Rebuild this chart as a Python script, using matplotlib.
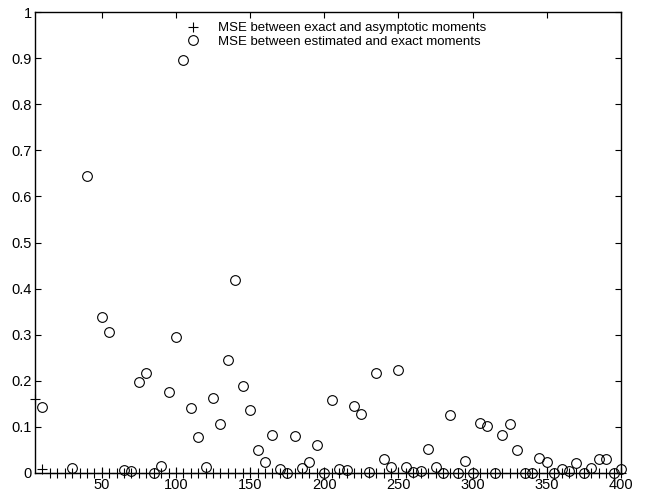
import matplotlib
matplotlib.use("Agg")
import matplotlib.pyplot as plt
import numpy as np

plt.rcParams['font.family'] = ['Liberation Sans', 'DejaVu Sans']

# Series 1: MSE between exact and asymptotic moments (+)
asym_x = [5, 10] + list(range(15, 405, 5))
asym_y = [0.16, 0.008] + [0.0] * len(range(15, 405, 5))

# Series 2: MSE between estimated and exact moments (o)
est_x = [10, 30, 40, 50, 55, 65, 70, 75, 80, 85, 90, 95, 100, 105, 110, 115,
         120, 125, 130, 135, 140, 145, 150, 155, 160, 165, 170, 175, 180, 185,
         190, 195, 200, 205, 210, 215, 220, 225, 230, 235, 240, 245, 250, 255,
         260, 265, 270, 275, 280, 285, 290, 295, 300, 305, 310, 315, 320, 325,
         330, 335, 340, 345, 350, 355, 360, 365, 370, 375, 380, 385, 390, 395,
         400]
est_y = [0.144, 0.011, 0.644, 0.339, 0.305, 0.006, 0.005, 0.197, 0.218, 0.0,
         0.015, 0.176, 0.294, 0.896, 0.142, 0.078, 0.013, 0.162, 0.106, 0.246,
         0.419, 0.189, 0.136, 0.050, 0.024, 0.083, 0.009, 0.0, 0.081, 0.011,
         0.024, 0.061, 0.0, 0.158, 0.009, 0.006, 0.145, 0.128, 0.003, 0.218,
         0.030, 0.012, 0.223, 0.012, 0.003, 0.004, 0.051, 0.012, 0.0, 0.126,
         0.0, 0.025, 0.0, 0.108, 0.103, 0.0, 0.083, 0.106, 0.049, 0.0, 0.0,
         0.032, 0.024, 0.0, 0.009, 0.004, 0.021, 0.0, 0.011, 0.030, 0.030,
         0.0, 0.008]

xticks = [50, 100, 150, 200, 250, 300, 350, 400]
yticks = [0, 0.1, 0.2, 0.3, 0.4, 0.5, 0.6, 0.7, 0.8, 0.9, 1]
ytick_labels = ['0', '0.1', '0.2', '0.3', '0.4', '0.5', '0.6', '0.7', '0.8', '0.9', '1']

fig = plt.figure(figsize=(6.5, 4.93), dpi=100)
ax = fig.add_axes([35/650, 20/493, 586/650, 461/493])

ax.plot(asym_x, asym_y, linestyle='none', marker='+', color='black',
        markersize=7, markeredgewidth=0.8, clip_on=False,
        label='MSE between exact and asymptotic moments', zorder=3)
ax.plot(est_x, est_y, linestyle='none', marker='o', markerfacecolor='none',
        markeredgecolor='black', markersize=7, markeredgewidth=0.8,
        clip_on=False, label='MSE between estimated and exact moments', zorder=3)

ax.set_xlim(5, 400)
ax.set_ylim(0, 1)
ax.set_xticks(xticks)
ax.set_yticks(yticks)
ax.set_yticklabels(ytick_labels)
ax.tick_params(direction='in', top=True, right=True, length=4, width=0.8,
               labelsize=10.5)
ax.tick_params(axis='y', pad=2.5)
ax.tick_params(axis='x', pad=3.5)
for s in ax.spines.values():
    s.set_linewidth(1.0)

leg = ax.legend(loc='upper left', bbox_to_anchor=(0.238, 0.990), frameon=False,
                fontsize=9.5, handletextpad=0.9, labelspacing=0.1,
                borderaxespad=0.0, handlelength=2.0)

fig.savefig('out.png', dpi=100)
